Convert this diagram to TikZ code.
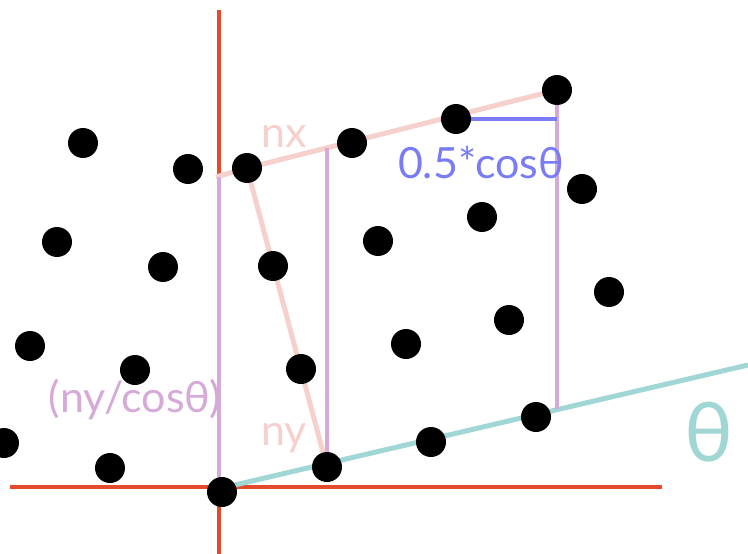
\documentclass[tikz,border=0pt]{standalone}
\usepackage{fontspec}
\setmainfont{Lato}
\definecolor{axisred}{RGB}{230,74,44}
\definecolor{tealc}{RGB}{160,214,212}
\definecolor{pinkc}{RGB}{246,208,204}
\definecolor{purplec}{RGB}{214,170,216}
\definecolor{bluec}{RGB}{122,124,246}
\begin{document}
\begin{tikzpicture}[x=1pt,y=-1pt,
  dot/.style={circle,fill=black,inner sep=0pt,minimum size=30pt},
  axisline/.style={draw=axisred,line width=4.5pt},
  tealline/.style={draw=tealc,line width=5pt},
  pinkline/.style={draw=pinkc,line width=5pt},
  purpleline/.style={draw=purplec,line width=4.5pt},
  blueline/.style={draw=bluec,line width=4.5pt},
  lbl/.style={inner sep=0pt,font=\fontsize{43}{43}\selectfont}
]
\useasboundingbox (0,0) rectangle (748,554);
% coordinates
\coordinate (ytop) at (219,10);
\coordinate (ybot) at (219,554);
\coordinate (xl) at (10,487);
\coordinate (xr) at (662,487);
\coordinate (orig) at (222,488);
\coordinate (pbot) at (219,490);
\coordinate (tend) at (748,365);
\coordinate (nxstart) at (216,177);
\coordinate (ptop) at (219,177);
\coordinate (pmid) at (327,148);
\coordinate (pright) at (557,409);
\coordinate (bend) at (557,119);
% dots (positions)
\path
 (83,143) coordinate (d1)
 (188,169) coordinate (d2)
 (247,168) coordinate (d3)
 (352,143) coordinate (d4)
 (456,119) coordinate (d5)
 (557,90) coordinate (d6)
 (57,242) coordinate (d7)
 (163,267) coordinate (d8)
 (273,266) coordinate (d9)
 (378,241) coordinate (d10)
 (482,217) coordinate (d11)
 (582,189) coordinate (d12)
 (30,346) coordinate (d13)
 (135,370) coordinate (d14)
 (301,369) coordinate (d15)
 (406,344) coordinate (d16)
 (509,320) coordinate (d17)
 (609,292) coordinate (d18)
 (4,443) coordinate (d19)
 (110,468) coordinate (d20)
 (222,492) coordinate (d21)
 (327,467) coordinate (d22)
 (431,442) coordinate (d23)
 (536,417) coordinate (d24);
% lines
\draw[axisline] (ytop) -- (ybot);
\draw[axisline] (xl) -- (xr);
\draw[tealline] (orig) -- (tend);
\draw[pinkline] (nxstart) -- (d3) -- (d6);
\draw[pinkline] (d3) -- (d22);
\draw[purpleline] (ptop) -- (pbot);
\draw[purpleline] (pmid) -- (d22);
\draw[purpleline] (d6) -- (pright);
\draw[blueline] (d5) -- (bend);
% dots
\foreach \i in {1,...,24} \node[dot] (n\i) at (d\i) {};
% labels
\node[lbl,text=pinkc] (lnx) at (284,136) {nx};
\node[lbl,text=pinkc] (lny) at (284,438) {ny};
\node[lbl,text=bluec] (lcos) at (481,162) {0.5*cosθ};
\node[lbl,text=purplec] (lnycos) at (135,400) {(ny/cosθ)};
\node[inner sep=0pt,text=tealc,font=\fontsize{82}{82}\selectfont] (lth) at (709,432) {θ};
\end{tikzpicture}
\end{document}
